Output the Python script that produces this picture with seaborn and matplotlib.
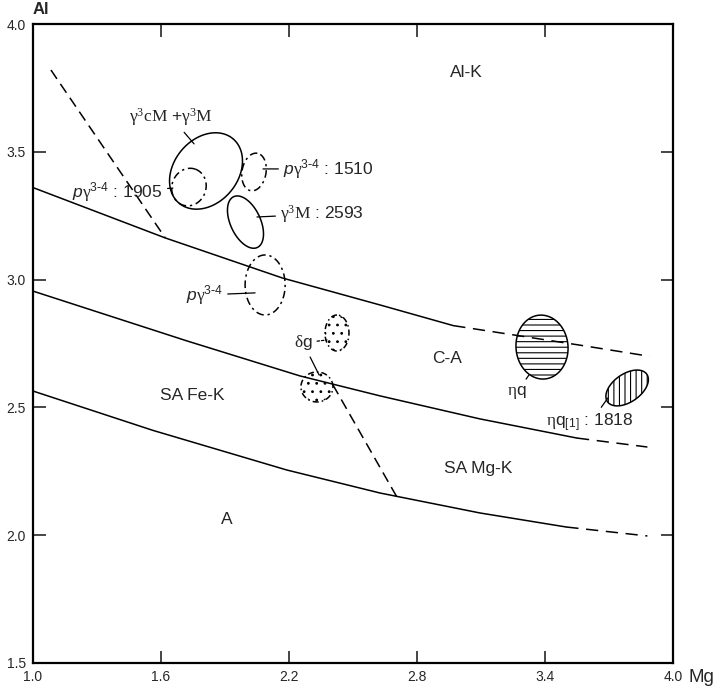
import numpy as np
import matplotlib
matplotlib.use("Agg")
import matplotlib.pyplot as plt
import seaborn as sns
from matplotlib.patches import Polygon

# ---------------- data ----------------
x_ticks = [1.0, 1.6, 2.2, 2.8, 3.4, 4.0]
x_tick_labels = ["1.0", "1.6", "2.2", "2.8", "3.4", "4.0"]
y_ticks = [1.5, 2.0, 2.5, 3.0, 3.5, 4.0]
y_tick_labels = ["1.5", "2.0", "2.5", "3.0", "3.5", "4.0"]

upper_mg = [1.0, 1.62, 2.17, 2.63, 2.97]
upper_al = [3.36, 3.163, 3.006, 2.90, 2.82]
upper_ext_mg = [2.97, 3.56, 3.89]
upper_ext_al = [2.82, 2.744, 2.70]

middle_mg = [1.0, 1.722, 2.252, 2.627, 3.095, 3.55]
middle_al = [2.955, 2.76, 2.623, 2.545, 2.455, 2.38]
middle_ext_mg = [3.55, 3.88]
middle_ext_al = [2.38, 2.345]

lower_mg = [1.0, 1.5625, 2.19, 2.627, 3.095, 3.50]
lower_al = [2.564, 2.41, 2.255, 2.165, 2.087, 2.032]
lower_ext_mg = [3.50, 3.88]
lower_ext_al = [2.032, 1.997]

divider1_mg = [1.084, 1.62]
divider1_al = [3.82, 3.163]
divider2_mg = [2.406, 2.706]
divider2_al = [2.588, 2.149]

# fields (ellipses): centres in data, semi-axes in pixels, angle in degrees
field_mg = [1.811, 1.731, 2.036, 1.996, 2.088, 2.425, 2.331, 3.386, 3.785]
field_al = [3.425, 3.362, 3.421, 3.225, 2.979, 2.791, 2.580, 2.736, 2.576]
field_a = [42, 19, 19, 28, 30, 18, 16, 32, 24]
field_b = [32, 17, 12, 15, 20, 12, 15, 26, 14]
field_angle = [50, 70, 80, 115, 90, 90, 0, 95, 35]
field_kind = ["solid", "dash", "dash", "solid", "dash", "dot", "dot", "hline", "vline"]

region_labels = ["Al-K", "C-A", "SA Fe-K", "SA Mg-K", "A"]
region_mg = [3.03, 2.941, 1.745, 3.086, 1.909]
region_al = [3.812, 2.693, 2.545, 2.259, 2.06]

# annotations: text, text position, ha, point
PG = r"$\mathit{p}\mathrm{\gamma}^{\mathsf{3}\text{-}\mathsf{4}}$"
ann_text = [r"$\mathrm{\gamma^{3}cM}$ +$\mathrm{\gamma^{3}M}$",
            PG + " : 1905",
            PG + " : 1510",
            r"$\mathrm{\gamma^{3}M}$ : 2593",
            PG,
            r"$\mathrm{\eta}$q",
            r"$\mathrm{\eta}$q$_{\mathsf{[1]}}$ : 1818"]
ann_tx = [1.647, 1.609, 2.172, 2.158, 1.891, 3.269, 3.611]
ann_ty = [3.636, 3.343, 3.433, 3.257, 2.940, 2.56, 2.439]
ann_ha = ["center", "right", "left", "left", "right", "center", "center"]
ann_px = [1.755, 1.656, 2.078, 2.05, 2.041, 3.325, 3.695]
ann_py = [3.531, 3.358, 3.433, 3.245, 2.948, 2.627, 2.537]

dg_text = r"$\mathrm{\delta}$g"
dg_tx, dg_ty = 2.266, 2.752
dg_px = [2.378, 2.341]
dg_py = [2.764, 2.627]

# ---------------- style ----------------
sns.set_style("ticks")
plt.rcParams["font.family"] = ["Liberation Sans", "DejaVu Sans"]
plt.rcParams["mathtext.fontset"] = "custom"
plt.rcParams["mathtext.rm"] = "Liberation Serif"
plt.rcParams["mathtext.it"] = "Liberation Sans:italic"
plt.rcParams["mathtext.sf"] = "Liberation Sans"
plt.rcParams["mathtext.bf"] = "Liberation Sans:bold"
plt.rcParams["hatch.linewidth"] = 0.8

fig = plt.figure(figsize=(7.13, 6.87), dpi=100)
ax = fig.add_axes([33 / 713, 24 / 687, 640 / 713, 639 / 687])
ax.set_xlim(1.0, 4.0)
ax.set_ylim(1.5, 4.0)

lw = 1.1
solid_sets = [(upper_mg, upper_al), (middle_mg, middle_al), (lower_mg, lower_al)]
for xs, ys in solid_sets:
    sns.lineplot(x=xs, y=ys, ax=ax, color="black", lw=lw, sort=False, estimator=None)
ext_sets = [(upper_ext_mg, upper_ext_al), (middle_ext_mg, middle_ext_al), (lower_ext_mg, lower_ext_al)]
for xs, ys in ext_sets:
    sns.lineplot(x=xs, y=ys, ax=ax, color="black", lw=lw, sort=False, estimator=None,
                 linestyle=(0, (8, 5)))
for xs, ys in [(divider1_mg, divider1_al), (divider2_mg, divider2_al)]:
    sns.lineplot(x=xs, y=ys, ax=ax, color="black", lw=lw, sort=False, estimator=None,
                 linestyle=(0, (7, 4)))

# ellipses
p0 = ax.transData.transform((0, 0))
p1 = ax.transData.transform((1, 1))
sx, sy = p1 - p0
t = np.linspace(0, 2 * np.pi, 240)
for cx, cy, a, b, ang, kind in zip(field_mg, field_al, field_a, field_b, field_angle, field_kind):
    th = np.deg2rad(ang)
    dx = a * np.cos(t) * np.cos(th) - b * np.sin(t) * np.sin(th)
    dy = a * np.cos(t) * np.sin(th) + b * np.sin(t) * np.cos(th)
    pts = np.column_stack([cx + dx / sx, cy + dy / sy])
    ls, hatch = "-", None
    if kind == "dash":
        ls = (0, (5, 2.5, 1.5, 2.5))
    elif kind == "dot":
        ls = (0, (4, 2, 1, 2))
        hatch = ".."
    elif kind == "hline":
        hatch = "---"
    elif kind == "vline":
        hatch = "|||"
    poly = Polygon(pts, closed=True, facecolor="none", edgecolor="black",
                   lw=lw, linestyle=ls, hatch=hatch, zorder=3)
    ax.add_patch(poly)

# region labels
for lab, x, y in zip(region_labels, region_mg, region_al):
    ax.text(x, y, lab, fontsize=12.5, ha="center", va="center")

# annotations
for txt, tx, ty, ha, px, py in zip(ann_text, ann_tx, ann_ty, ann_ha, ann_px, ann_py):
    ax.annotate(txt, xy=(px, py), xytext=(tx, ty), ha=ha, va="center", fontsize=12.5,
                arrowprops=dict(arrowstyle="-", lw=0.9, color="black",
                                shrinkA=1, shrinkB=0))
ax.annotate(dg_text, xy=(dg_px[0], dg_py[0]), xytext=(dg_tx, dg_ty), ha="center",
            va="center", fontsize=12.5,
            arrowprops=dict(arrowstyle="-", lw=0.9, color="black", linestyle=(0, (2, 1.5)),
                            shrinkA=1, shrinkB=0))
ax.annotate(dg_text, xy=(dg_px[1], dg_py[1]), xytext=(dg_tx, dg_ty), ha="center",
            va="center", fontsize=12.5, color="none",
            arrowprops=dict(arrowstyle="-", lw=0.9, color="black",
                            shrinkA=1, shrinkB=0))

# axes
ax.set_xticks(x_ticks)
ax.set_xticklabels(x_tick_labels)
ax.set_yticks(y_ticks)
ax.set_yticklabels(y_tick_labels)
ax.tick_params(direction="in", length=9, width=1.2, top=True, right=True,
               labelsize=10, pad=5)
for s in ax.spines.values():
    s.set_linewidth(1.6)
    s.set_color("black")
ax.set_xlabel("")
ax.set_ylabel("")
fig.text(33 / 713, 1 - 10 / 687, "Al", fontsize=12, ha="left", va="center",
         fontweight="bold")
fig.text(688 / 713, 1 - 677 / 687, "Mg", fontsize=13.5, ha="left", va="center")

fig.savefig("out.png", dpi=100)
